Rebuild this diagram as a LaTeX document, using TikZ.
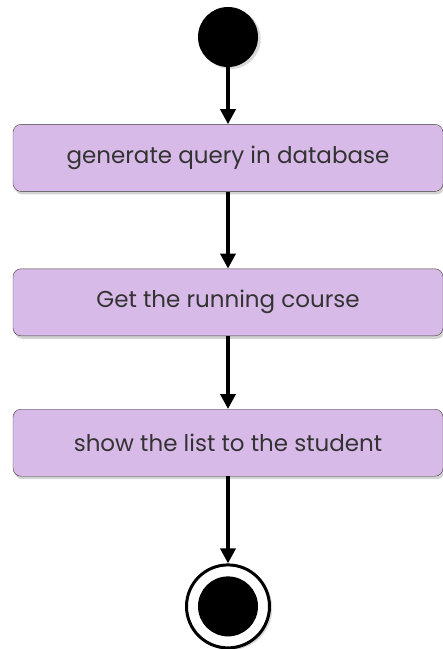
\documentclass[tikz,border=0pt]{standalone}
\usepackage{fontspec}
\setmainfont{Poppins}
\usetikzlibrary{positioning,shadows,arrows.meta}
\definecolor{actfill}{RGB}{216,186,232}
\definecolor{actline}{RGB}{60,60,60}
\begin{document}
\begin{tikzpicture}[x=1pt, y=1pt,
	action/.style={draw=actline, fill=actfill, rounded corners=8pt,
		minimum width=430pt, minimum height=67pt,
		font=\fontsize{23}{27}\selectfont, text=black!80,
		drop shadow={shadow xshift=1.5pt, shadow yshift=-3pt, opacity=0.35}},
	startdot/.style={circle, fill=black, minimum size=60pt, inner sep=0pt},
	endring/.style={circle, draw=black, line width=3pt, fill=white,
		minimum size=83pt, inner sep=0pt},
	flow/.style={line width=3.5pt, -{Triangle[width=15pt,length=15pt]}},
	]
	\useasboundingbox (0,0) rectangle (443,-649);
	% start and actions
	\node[startdot, drop shadow={shadow yshift=-2pt, opacity=0.3}] (start) at (228,-37) {};
	\node[action, below=57pt of start] (query) {generate query in database};
	\node[action, below=77pt of query] (course) {Get the running course};
	\node[action, below=73pt of course] (list) {show the list to the student};
	% final state
	\node[endring, below=87pt of list, drop shadow={shadow yshift=-2pt, opacity=0.3}] (stop) {};
	\node[startdot] (stopdot) at (stop) {};

	\draw[flow] (start) -- (query);
	\draw[flow] (query) -- (course);
	\draw[flow] (course) -- (list);
	\draw[flow] (list) -- (stop);
\end{tikzpicture}
\end{document}
